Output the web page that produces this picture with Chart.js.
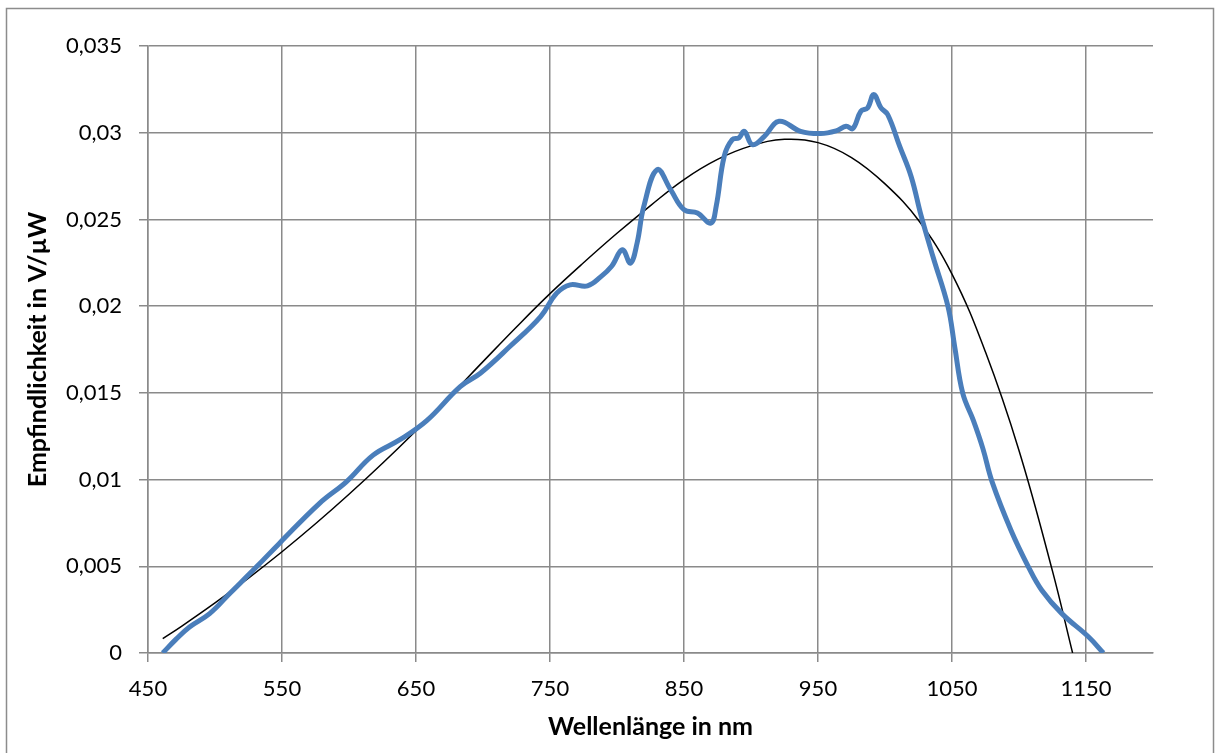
<!DOCTYPE html>
<html>
<head>
<meta charset="utf-8">
<script src="https://cdn.jsdelivr.net/npm/chart.js@4/dist/chart.umd.min.js"></script>
<style>
  html, body { margin: 0; padding: 0; background: #fff; }
  #c { display: block; }
</style>
</head>
<body>
<canvas id="c" width="1215" height="753"></canvas>
<script>
// Messkurve (blau)
const waveX = [461, 471, 481, 496, 511, 531, 548, 578, 598, 618, 638, 658, 683, 698, 720, 743, 755, 765, 778, 788, 796,
  804, 810, 815, 820, 830, 840, 850, 860, 870, 874, 880, 886, 891, 895, 901, 910, 921, 937, 952, 964, 971, 976,
  982, 987, 991.6, 997, 1002, 1011, 1019.5, 1027, 1036, 1047, 1052, 1058, 1066, 1073, 1080, 1094, 1107, 1117, 1132, 1152, 1163];
const sensY = [0, 0.0008, 0.0015, 0.00227, 0.00343, 0.00497, 0.00632, 0.00863, 0.00987, 0.01141, 0.0123, 0.0134, 0.01536,
  0.01613, 0.01767, 0.0194, 0.02075, 0.02123, 0.02117, 0.0217, 0.0223,
  0.02325, 0.02248, 0.02364, 0.02575, 0.02787, 0.02672, 0.02556, 0.02537, 0.02479, 0.02575, 0.02864, 0.0296, 0.0297,
  0.03008, 0.02931, 0.02979, 0.03066, 0.03008, 0.02995, 0.03012, 0.03037, 0.03024,
  0.03124, 0.03143, 0.0322, 0.03143, 0.03105, 0.02921, 0.02748, 0.0252, 0.0228, 0.01998, 0.01767, 0.01498, 0.0134,
  0.0118, 0.00985, 0.00708, 0.00497, 0.00362, 0.00227, 0.00092, 0];

// Trendlinie (schwarz)
const trendX = [461, 475, 500, 525, 550, 575, 600, 625, 650, 675, 700, 725, 750, 775, 800, 825, 850, 875, 900,
  925, 950, 975, 1000, 1025, 1050, 1075, 1100, 1125, 1140];
const trendY = [0.00083, 0.00154, 0.00289, 0.00432, 0.00584, 0.00745, 0.00915, 0.01094, 0.01282, 0.01478, 0.0168,
  0.0188, 0.02072, 0.0225, 0.0242, 0.0258, 0.0273, 0.02846, 0.02924,
  0.02962, 0.02943, 0.02857, 0.02705, 0.02495, 0.02185, 0.01735, 0.01168, 0.00472, 0];

// Achsenbeschriftung
const xTicks = [450, 550, 650, 750, 850, 950, 1050, 1150];
const yTicks = [0, 0.005, 0.01, 0.015, 0.02, 0.025, 0.03, 0.035];

const gridColor = '#8a8a8a';

// Rahmen um das ganze Diagramm
const frame = {
  id: 'frame',
  beforeDraw(chart) {
    const ctx = chart.ctx;
    ctx.save();
    ctx.fillStyle = '#fff';
    ctx.fillRect(0, 0, chart.width, chart.height);
    ctx.strokeStyle = '#8c8c8c';
    ctx.lineWidth = 1.5;
    ctx.strokeRect(6.5, 8.5, 1207, 760);
    ctx.restore();
  }
};

new Chart(document.getElementById('c'), {
  type: 'line',
  data: {
    datasets: [
      {
        label: 'Empfindlichkeit',
        data: waveX.map((x, i) => ({ x: x, y: sensY[i] })),
        borderColor: '#4a7ebb',
        borderWidth: 5,
        pointRadius: 0,
        tension: 0.4,
        fill: false
      },
      {
        label: 'Trend',
        data: trendX.map((x, i) => ({ x: x, y: trendY[i] })),
        borderColor: '#000',
        borderWidth: 1.5,
        pointRadius: 0,
        tension: 0.4,
        fill: false
      }
    ]
  },
  options: {
    responsive: false,
    animation: false,
    devicePixelRatio: 1,
    layout: { padding: { left: 0, top: 46, right: 62, bottom: 0 } },
    plugins: { legend: { display: false }, tooltip: { enabled: false } },
    scales: {
      x: {
        type: 'linear',
        min: 450,
        max: 1200,
        afterBuildTicks: s => { s.ticks = xTicks.map(v => ({ value: v })); },
        afterFit: s => { s.height = 100; },
        grid: { color: gridColor, lineWidth: 1.5, tickLength: 9, tickColor: gridColor },
        border: { color: gridColor, width: 1.5 },
        ticks: {
          color: '#000',
          padding: 14,
          maxRotation: 0,
          autoSkip: false,
          font: { family: 'Lato', size: 22 },
          callback: v => String(v)
        },
        title: {
          display: true,
          text: 'Wellenlänge in nm',
          color: '#000',
          padding: { top: 0, bottom: 11 },
          font: { family: 'Lato', size: 25, weight: 'bold' }
        }
      },
      y: {
        type: 'linear',
        min: 0,
        max: 0.035,
        afterBuildTicks: s => { s.ticks = yTicks.map(v => ({ value: v })); },
        afterFit: s => { s.width = 148; },
        grid: { color: gridColor, lineWidth: 1.5, tickLength: 9, tickColor: gridColor },
        border: { color: gridColor, width: 1.5 },
        ticks: {
          color: '#000',
          padding: 17,
          autoSkip: false,
          font: { family: 'Lato', size: 22 },
          callback: v => String(v).replace('.', ',')
        },
        title: {
          display: true,
          text: 'Empfindlichkeit in V/µW',
          color: '#000',
          padding: { top: 23, bottom: 0 },
          font: { family: 'Lato', size: 25, weight: 'bold' }
        }
      }
    }
  },
  plugins: [frame]
});
</script>
</body>
</html>
